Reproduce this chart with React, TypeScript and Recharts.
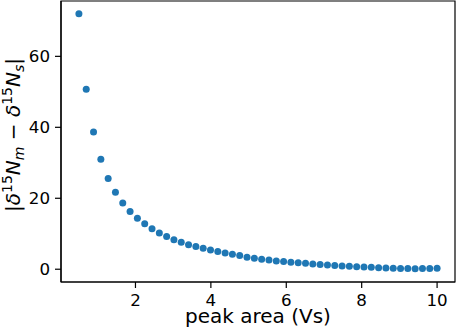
import React from "react";
import { ScatterChart, Scatter, XAxis, YAxis, ReferenceArea } from "recharts";

// peak area (Vs) of each sample
const peakArea = [
  0.5, 0.694, 0.888, 1.082, 1.276, 1.469, 1.663, 1.857, 2.051, 2.245,
  2.439, 2.633, 2.827, 3.02, 3.214, 3.408, 3.602, 3.796, 3.99, 4.184,
  4.378, 4.571, 4.765, 4.959, 5.153, 5.347, 5.541, 5.735, 5.929, 6.122,
  6.316, 6.51, 6.704, 6.898, 7.092, 7.286, 7.48, 7.673, 7.867, 8.061,
  8.255, 8.449, 8.643, 8.837, 9.031, 9.224, 9.418, 9.612, 9.806, 10.0,
];

// |d15N_m - d15N_s|
const deltaDiff = [
  72.0, 50.7, 38.7, 31.0, 25.6, 21.7, 18.7, 16.3, 14.4, 12.8,
  11.4, 10.2, 9.2, 8.3, 7.6, 6.9, 6.4, 5.9, 5.4, 5.0,
  4.6, 4.2, 3.85, 3.4, 3.1, 2.8, 2.6, 2.35, 2.15, 1.97,
  1.8, 1.65, 1.5, 1.35, 1.2, 1.05, 0.93, 0.82, 0.72, 0.62,
  0.53, 0.45, 0.37, 0.29, 0.22, 0.17, 0.15, 0.18, 0.24, 0.3,
];

const xTicks = [2, 4, 6, 8, 10];
const yTicks = [0, 20, 40, 60];

const xDomain = [0.025, 10.475];
const yDomain = [-3.6, 75.6];

const data = peakArea.map((x, i) => ({ x, y: deltaDiff[i] }));

const FONT = "DejaVu Sans";
const BLUE = "#1f77b4";

const Dot = (props: any) => (
  <circle cx={props.cx} cy={props.cy} r={3.5} fill={BLUE} />
);

const XLabel = (props: any) => {
  const vb = props.viewBox;
  return (
    <text
      x={vb.x + vb.width / 2}
      y={vb.y + 41}
      textAnchor="middle"
      fontSize={20}
      fontFamily={FONT}
      fill="#000"
    >
      peak area (Vs)
    </text>
  );
};

const YLabel = () => (
  <text
    transform="translate(20,135) rotate(-90)"
    textAnchor="middle"
    fontSize={20}
    fontFamily={FONT}
    fill="#000"
  >
    <tspan>|</tspan>
    <tspan fontStyle="italic">δ</tspan>
    <tspan fontSize={14} dy={-8}>15</tspan>
    <tspan fontStyle="italic" dy={8}>N</tspan>
    <tspan fontStyle="italic" fontSize={14} dy={4}>m</tspan>
    <tspan dy={-4}> − </tspan>
    <tspan fontStyle="italic">δ</tspan>
    <tspan fontSize={14} dy={-8}>15</tspan>
    <tspan fontStyle="italic" dy={8}>N</tspan>
    <tspan fontStyle="italic" fontSize={14} dy={4}>s</tspan>
    <tspan dy={-4}>|</tspan>
  </text>
);

const tickStyle = { fontSize: 16.7, fontFamily: FONT, fill: "#000" };
const line = { stroke: "#000", strokeWidth: 1.2 };

export default function App() {
  return (
    <div style={{ position: "absolute", left: 0, top: 0, background: "#fff" }}>
      <ScatterChart
        width={457}
        height={334}
        margin={{ top: 1, right: 2, left: 0, bottom: 0 }}
      >
        <XAxis
          type="number"
          dataKey="x"
          domain={xDomain}
          ticks={xTicks}
          allowDataOverflow
          height={52}
          tickSize={6}
          tickMargin={6}
          axisLine={line}
          tickLine={line}
          tick={tickStyle}
          label={(p: any) => <XLabel {...p} />}
        />
        <YAxis
          type="number"
          dataKey="y"
          domain={yDomain}
          ticks={yTicks}
          allowDataOverflow
          width={61}
          tickSize={6}
          tickMargin={5}
          axisLine={line}
          tickLine={line}
          tick={tickStyle}
          label={() => <YLabel />}
        />
        {/* axes frame (top + right spines) */}
        <ReferenceArea
          x1={xDomain[0]}
          x2={xDomain[1]}
          y1={yDomain[0]}
          y2={yDomain[1]}
          fill="none"
          stroke="#000"
          strokeWidth={1.2}
          ifOverflow="visible"
        />
        <Scatter data={data} shape={Dot} isAnimationActive={false} />
      </ScatterChart>
    </div>
  );
}
